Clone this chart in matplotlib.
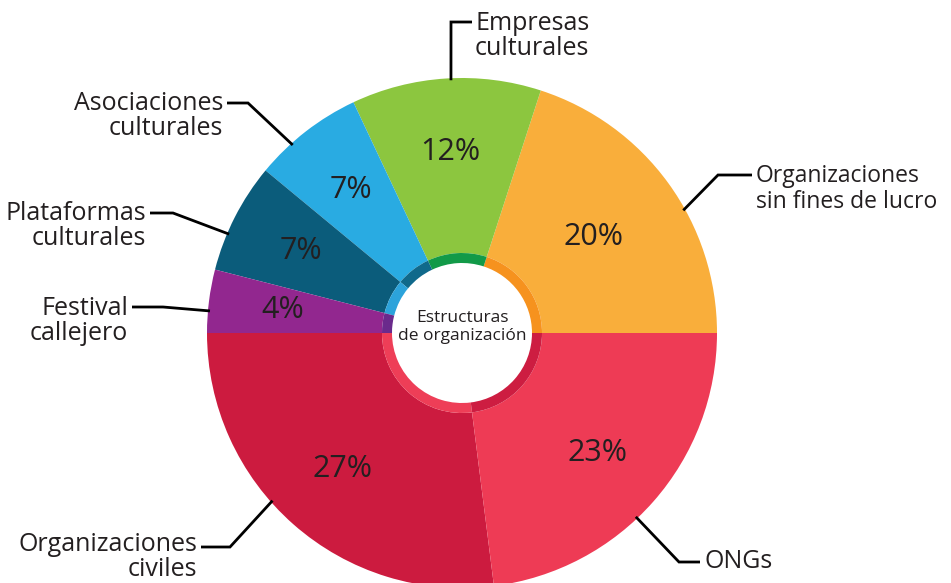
import numpy as np
import matplotlib.pyplot as plt

plt.rcParams['font.family'] = ['Open Sans', 'DejaVu Sans']

# data
categories = ['Organizaciones\nsin fines de lucro', 'Empresas\nculturales',
              'Asociaciones\nculturales', 'Plataformas\nculturales',
              'Festival\ncallejero', 'Organizaciones\nciviles', 'ONGs']
shares = [20, 12, 7, 7, 4, 27, 23]
colors = ['#F9AE3B', '#8CC63F', '#29ABE2', '#0B5C7B', '#92278F', '#CC1B3F', '#EE3B55']
ring_colors = ['#F6921E', '#129A48', '#10698B', '#2CA3DB', '#6A2A8C', '#EE3E57', '#CD1D41']
center_title = 'Estructuras\nde organización'

W, H = 951, 583
cx, cy = 462, H - 333
R = 255
ink = '#231F20'

fig = plt.figure(figsize=(W / 100, H / 100), dpi=100)
ax = fig.add_axes([0, 0, 1, 1])

wedges, texts, pcts = ax.pie(shares, colors=colors, radius=R, center=(cx, cy),
                             startangle=0, counterclock=True,
                             autopct=lambda p: f'{p:.0f}%', pctdistance=0.71,
                             wedgeprops=dict(width=R - 80, linewidth=0),
                             textprops=dict(fontsize=22, color=ink))
# the 20% label sits a bit closer to the middle
x, y = pcts[0].get_position()
pcts[0].set_position((cx + (x - cx) * 0.9, cy + (y - cy) * 0.9))

ax.pie(shares, colors=ring_colors, radius=80, center=(cx, cy), startangle=0,
       counterclock=True, wedgeprops=dict(width=10, linewidth=0))

ax.text(cx, H - 327, center_title, ha='center', va='center', fontsize=12.5,
        color=ink, linespacing=1.2)

# leader lines: anchor angle on rim, elbow, end (image pixels), text pos, align, size
layout = [
    (29, (718, 175), (752, 175), (756, 189), 'left', 16.5),
    (92.5, (451, 22), (472, 22), (475, 36), 'left', 18),
    (132, (248, 103), (227, 103), (223, 116), 'right', 18),
    (157, (173, 213), (150, 213), (146, 226), 'right', 18),
    (175, (163, 307), (132, 307), (128, 321), 'right', 18),
    (221.5, (230, 547), (201, 547), (197, 557), 'right', 18),
    (313.4, (679, 562), (700, 562), (705, 562), 'left', 18),
]
for lab, (ang, elbow, end, tpos, ha, fs) in zip(categories, layout):
    a = np.deg2rad(ang)
    px, py = cx + (R - 2) * np.cos(a), cy + (R - 2) * np.sin(a)
    ax.plot([px, elbow[0], end[0]], [py, H - elbow[1], H - end[1]],
            color='black', lw=2, solid_capstyle='butt', solid_joinstyle='miter')
    ax.text(tpos[0], H - tpos[1], lab, ha=ha, va='center', multialignment=ha,
            fontsize=fs, color=ink, linespacing=1.05 * 18 / fs)

ax.set_xlim(0, W)
ax.set_ylim(0, H)
ax.set_aspect('equal')
ax.axis('off')
fig.savefig('out.png', dpi=100, facecolor='white')
